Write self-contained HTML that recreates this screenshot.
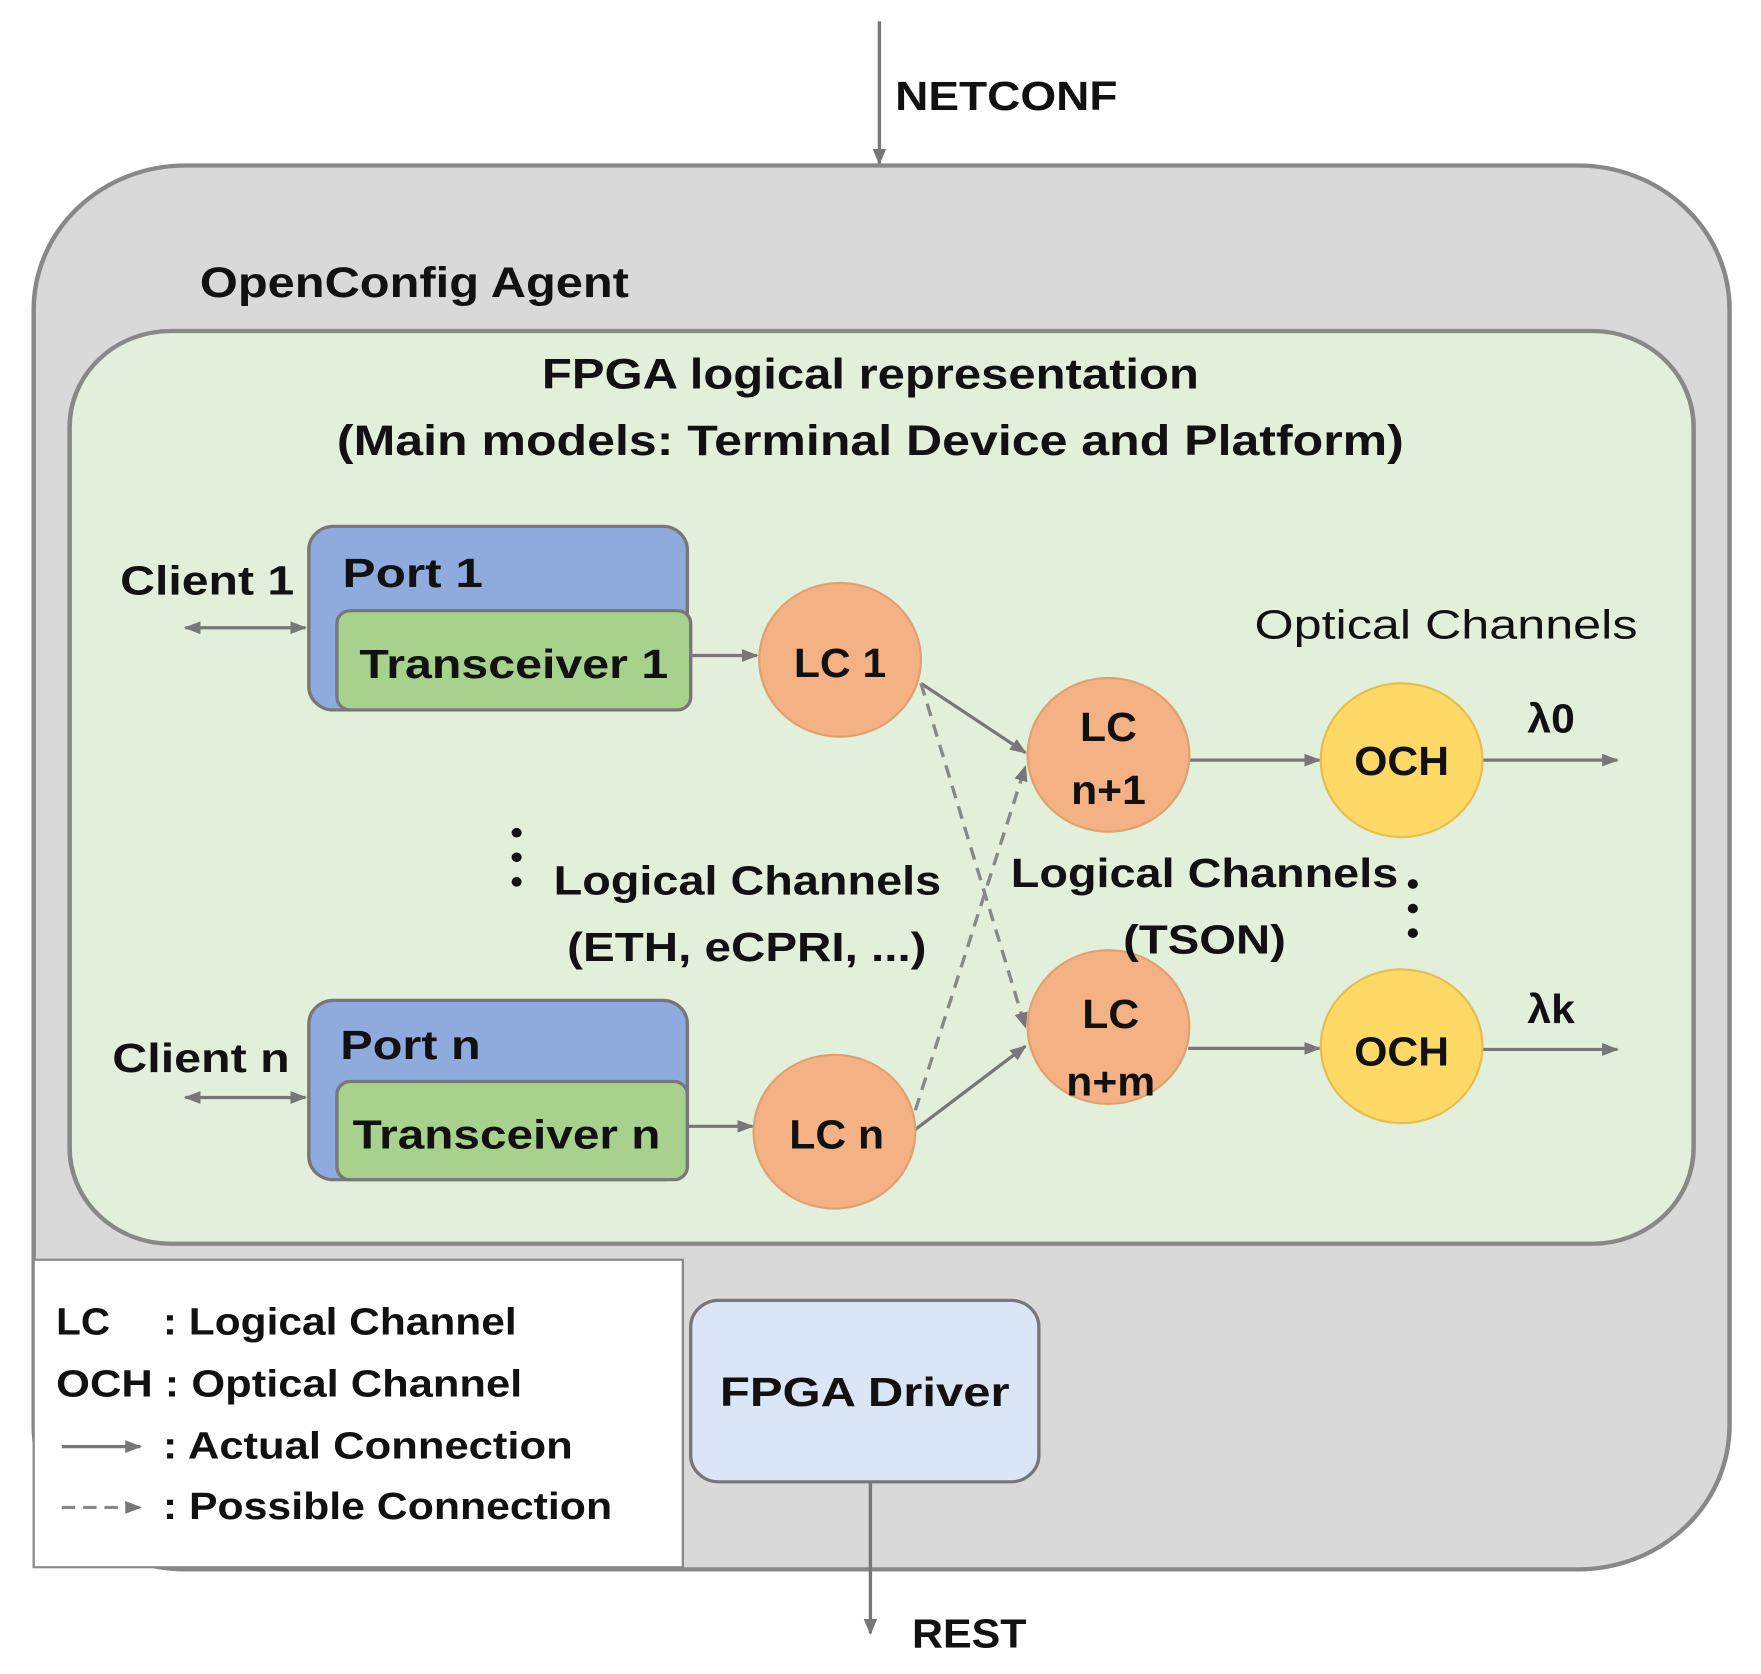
<!DOCTYPE html>
<html><head><meta charset="utf-8"><style>
html,body{margin:0;padding:0;background:#fff}
svg{display:block}
text{font-family:"Liberation Sans",sans-serif;font-weight:bold;fill:#111}
</style></head><body>
<svg width="1761" height="1674" viewBox="0 0 1568 1568" preserveAspectRatio="none" xmlns="http://www.w3.org/2000/svg">
<defs>
<marker id="a" viewBox="0 0 10 10" refX="9" refY="5" markerWidth="5" markerHeight="5" orient="auto-start-reverse"><path d="M0,1 L10,5 L0,9 z" fill="#777"/></marker>
</defs>
<!-- NETCONF -->
<line x1="783" y1="20" x2="783" y2="153" stroke="#777" stroke-width="3" marker-end="url(#a)"/>
<text x="797" y="103" font-size="38" textLength="198" lengthAdjust="spacingAndGlyphs">NETCONF</text>
<!-- outer -->
<rect x="30" y="155" width="1510" height="1315" rx="135" fill="#d9d9d9" stroke="#888" stroke-width="4"/>
<text x="178" y="278" font-size="40" textLength="382" lengthAdjust="spacingAndGlyphs">OpenConfig Agent</text>
<!-- green -->
<rect x="62" y="310" width="1446" height="855" rx="90" fill="#e2efda" stroke="#888" stroke-width="4"/>
<text x="775" y="364" font-size="40" text-anchor="middle" textLength="585" lengthAdjust="spacingAndGlyphs">FPGA logical representation</text>
<text x="775" y="426" font-size="40" text-anchor="middle" textLength="950" lengthAdjust="spacingAndGlyphs">(Main models: Terminal Device and Platform)</text>
<!-- Port 1 -->
<text x="107" y="557" font-size="38" textLength="155" lengthAdjust="spacingAndGlyphs">Client 1</text>
<line x1="165" y1="588" x2="272" y2="588" stroke="#777" stroke-width="3" marker-start="url(#a)" marker-end="url(#a)"/>
<rect x="275" y="493" width="337" height="172" rx="22" fill="#8faadc" stroke="#777" stroke-width="3"/>
<text x="305" y="550" font-size="38" textLength="125" lengthAdjust="spacingAndGlyphs">Port 1</text>
<rect x="300" y="572" width="315" height="93" rx="12" fill="#a9d18e" stroke="#777" stroke-width="3"/>
<text x="320" y="635" font-size="38" textLength="275" lengthAdjust="spacingAndGlyphs">Transceiver 1</text>
<line x1="615" y1="614" x2="674" y2="614" stroke="#777" stroke-width="3" marker-end="url(#a)"/>
<!-- Port n -->
<text x="100" y="1004" font-size="38" textLength="158" lengthAdjust="spacingAndGlyphs">Client n</text>
<line x1="165" y1="1028" x2="272" y2="1028" stroke="#777" stroke-width="3" marker-start="url(#a)" marker-end="url(#a)"/>
<rect x="275" y="937" width="337" height="168" rx="22" fill="#8faadc" stroke="#777" stroke-width="3"/>
<text x="303" y="992" font-size="38" textLength="125" lengthAdjust="spacingAndGlyphs">Port n</text>
<rect x="300" y="1013" width="312" height="92" rx="12" fill="#a9d18e" stroke="#777" stroke-width="3"/>
<text x="314" y="1076" font-size="38" textLength="274" lengthAdjust="spacingAndGlyphs">Transceiver n</text>
<line x1="612" y1="1055" x2="670" y2="1055" stroke="#777" stroke-width="3" marker-end="url(#a)"/>
<!-- connections -->
<line x1="820" y1="640" x2="913" y2="705" stroke="#777" stroke-width="3" marker-end="url(#a)"/>
<line x1="820" y1="640" x2="913" y2="962" stroke="#888" stroke-width="3" stroke-dasharray="12,8" marker-end="url(#a)"/>
<line x1="815" y1="1058" x2="913" y2="980" stroke="#777" stroke-width="3" marker-end="url(#a)"/>
<line x1="815" y1="1040" x2="913" y2="718" stroke="#888" stroke-width="3" stroke-dasharray="12,8" marker-end="url(#a)"/>
<line x1="1058" y1="712" x2="1175" y2="712" stroke="#777" stroke-width="3" marker-end="url(#a)"/>
<line x1="1058" y1="982" x2="1175" y2="982" stroke="#777" stroke-width="3" marker-end="url(#a)"/>
<line x1="1320" y1="712" x2="1440" y2="712" stroke="#777" stroke-width="3" marker-end="url(#a)"/>
<line x1="1320" y1="983" x2="1440" y2="983" stroke="#777" stroke-width="3" marker-end="url(#a)"/>
<!-- circles -->
<circle cx="748" cy="618" r="72" fill="#f4b183" stroke="#e0a070" stroke-width="2"/>
<text x="748" y="634" font-size="38" text-anchor="middle">LC 1</text>
<circle cx="743" cy="1060" r="72" fill="#f4b183" stroke="#e0a070" stroke-width="2"/>
<text x="745" y="1076" font-size="38" text-anchor="middle">LC n</text>
<circle cx="987" cy="707" r="72" fill="#f4b183" stroke="#e0a070" stroke-width="2"/>
<text x="987" y="694" font-size="38" text-anchor="middle">LC</text>
<text x="987" y="753" font-size="38" text-anchor="middle">n+1</text>
<circle cx="987" cy="962" r="72" fill="#f4b183" stroke="#e0a070" stroke-width="2"/>
<text x="989" y="963" font-size="38" text-anchor="middle">LC</text>
<text x="989" y="1026" font-size="38" text-anchor="middle">n+m</text>
<circle cx="1248" cy="712" r="72" fill="#ffd966" stroke="#e6be50" stroke-width="2"/>
<text x="1248" y="726" font-size="38" text-anchor="middle">OCH</text>
<circle cx="1248" cy="980" r="72" fill="#ffd966" stroke="#e6be50" stroke-width="2"/>
<text x="1248" y="998" font-size="38" text-anchor="middle">OCH</text>
<text x="1360" y="686" font-size="38">λ0</text>
<text x="1360" y="958" font-size="38">λk</text>
<text x="1117" y="598" font-size="38" style="font-weight:normal" fill="#333" textLength="341" lengthAdjust="spacingAndGlyphs">Optical Channels</text>
<!-- dots -->
<circle cx="460" cy="780" r="4.5" fill="#111"/><circle cx="460" cy="803" r="4.5" fill="#111"/><circle cx="460" cy="826" r="4.5" fill="#111"/>
<circle cx="1258" cy="828" r="4.5" fill="#111"/><circle cx="1258" cy="851" r="4.5" fill="#111"/><circle cx="1258" cy="874" r="4.5" fill="#111"/>
<text x="493" y="838" font-size="38" textLength="345" lengthAdjust="spacingAndGlyphs">Logical Channels</text>
<text x="505" y="900" font-size="38" textLength="320" lengthAdjust="spacingAndGlyphs">(ETH, eCPRI, ...)</text>
<text x="900" y="831" font-size="38" textLength="345" lengthAdjust="spacingAndGlyphs">Logical Channels</text>
<text x="1000" y="893" font-size="38" textLength="145" lengthAdjust="spacingAndGlyphs">(TSON)</text>
<!-- legend -->
<rect x="30" y="1180" width="578" height="288" fill="#fff" stroke="#888" stroke-width="2"/>
<text x="50" y="1250" font-size="36">LC</text>
<text x="145" y="1250" font-size="36" textLength="315" lengthAdjust="spacingAndGlyphs">: Logical Channel</text>
<text x="50" y="1308" font-size="36" textLength="415" lengthAdjust="spacingAndGlyphs">OCH : Optical Channel</text>
<line x1="55" y1="1355" x2="125" y2="1355" stroke="#777" stroke-width="3" marker-end="url(#a)"/>
<text x="145" y="1366" font-size="36" textLength="365" lengthAdjust="spacingAndGlyphs">: Actual Connection</text>
<line x1="55" y1="1412" x2="125" y2="1412" stroke="#888" stroke-width="3" stroke-dasharray="12,7" marker-end="url(#a)"/>
<text x="145" y="1423" font-size="36" textLength="400" lengthAdjust="spacingAndGlyphs">: Possible Connection</text>
<!-- driver -->
<rect x="615" y="1218" width="310" height="170" rx="25" fill="#dae6f5" stroke="#777" stroke-width="3"/>
<text x="770" y="1317" font-size="38" text-anchor="middle" textLength="258" lengthAdjust="spacingAndGlyphs">FPGA Driver</text>
<line x1="775" y1="1388" x2="775" y2="1530" stroke="#777" stroke-width="3" marker-end="url(#a)"/>
<text x="812" y="1543" font-size="38" textLength="102" lengthAdjust="spacingAndGlyphs">REST</text>
</svg>
</body></html>
